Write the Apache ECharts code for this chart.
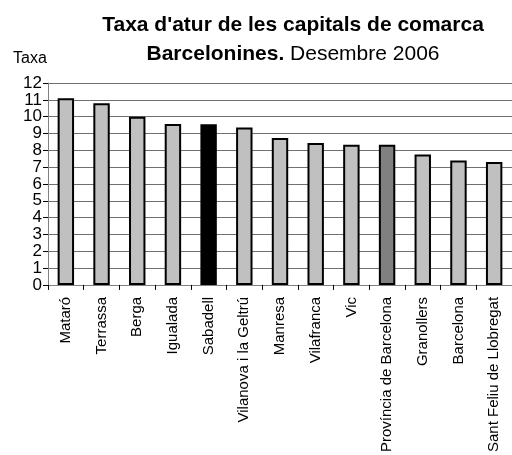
<!DOCTYPE html>
<html><head><meta charset="utf-8">
<script src="https://cdn.jsdelivr.net/npm/echarts@6/dist/echarts.min.js"></script>
<style>html,body{margin:0;padding:0;background:#fff}#c{width:512px;height:455px}</style>
</head><body><div id="c"></div>
<script>
const categories = ["Mataró","Terrassa","Berga","Igualada","Sabadell","Vilanova i la Geltrú","Manresa","Vilafranca","Vic","Província de Barcelona","Granollers","Barcelona","Sant Feliu de Llobregat"];
const values = [11.1, 10.8, 10.0, 9.57, 9.55, 9.35, 8.73, 8.43, 8.33, 8.33, 7.75, 7.39, 7.31];
const barColors = ["#c0c0c0","#c0c0c0","#c0c0c0","#c0c0c0","#000000","#c0c0c0","#c0c0c0","#c0c0c0","#c0c0c0","#808080","#c0c0c0","#c0c0c0","#c0c0c0"];
const yTicks = [0,1,2,3,4,5,6,7,8,9,10,11,12];

const chart = echarts.init(document.getElementById('c'));
chart.setOption({
  animation: false,
  backgroundColor: '#fff',
  title: [{
    text: "Taxa d'atur de les capitals de comarca\n{b|Barcelonines.} {n|Desembre 2006}",
    left: 288, top: 6, textAlign: 'center',
    textStyle: {
      fontFamily: 'Liberation Sans, Arial', fontSize: 21, fontWeight: 'bold', color: '#000', lineHeight: 29,
      rich: {
        b: {fontFamily: 'Liberation Sans, Arial', fontSize: 21, fontWeight: 'bold', color: '#000', lineHeight: 29},
        n: {fontFamily: 'Liberation Sans, Arial', fontSize: 21, fontWeight: 'normal', color: '#000', lineHeight: 29}
      }
    }
  }, {
    text: 'Taxa', left: 8, top: 46,
    textStyle: {fontFamily: 'Liberation Sans, Arial', fontSize: 16, fontWeight: 'normal', color: '#000'}
  }],
  grid: {left: 48, right: -10, top: 83, bottom: 168, containLabel: false},
  xAxis: {
    type: 'category', data: categories,
    axisLine: {lineStyle: {color: '#808080', width: 1}},
    axisTick: {show: true, alignWithLabel: false, length: 5, lineStyle: {color: '#000'}},
    axisLabel: {rotate: 90, interval: 0, margin: 12, fontFamily: 'Liberation Sans, Arial', fontSize: 15, color: '#000'},
    splitLine: {show: false}
  },
  yAxis: {
    type: 'value', min: 0, max: 12, interval: 1,
    axisLine: {show: true, lineStyle: {color: '#808080', width: 1}},
    axisTick: {show: true, length: 5, lineStyle: {color: '#000'}},
    axisLabel: {fontFamily: 'Liberation Sans, Arial', fontSize: 17, color: '#000', margin: 6,
      formatter: v => yTicks.includes(v) ? String(v) : ''},
    splitLine: {show: true, lineStyle: {color: '#707070', width: 1}}
  },
  series: [{
    type: 'bar',
    data: values.map((v, i) => ({value: v, itemStyle: {color: barColors[i]}})),
    barWidth: '46%',
    itemStyle: {borderColor: '#000', borderWidth: 2}
  }]
});
</script></body></html>
